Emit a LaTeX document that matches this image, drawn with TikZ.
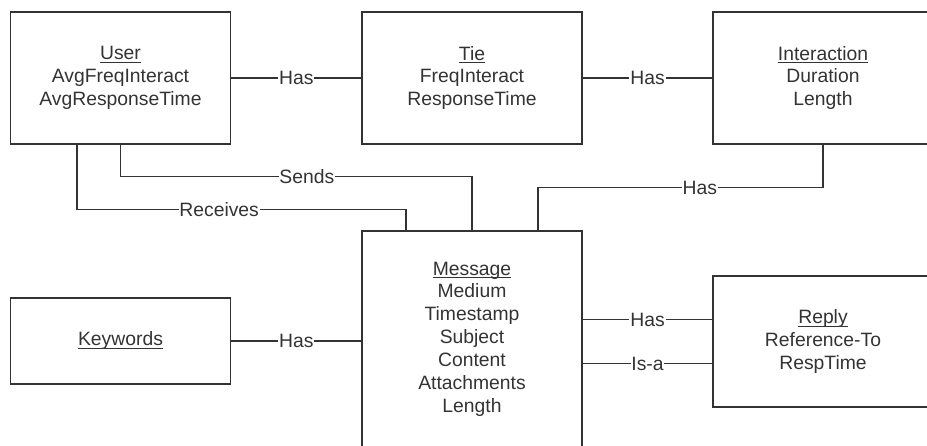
\documentclass[tikz,border=0pt]{standalone}
\usepackage{fontspec}
\setmainfont{Liberation Sans}
\newcommand\ename[1]{\setbox0\hbox{#1}\rlap{\rule[-1.6pt]{\wd0}{0.5pt}}\box0}
\begin{document}
\begin{tikzpicture}[
    x=0.02cm, y=-0.02cm,
    every node/.style={font=\fontsize{11}{13}\selectfont, text=black!80},
    entity/.style={draw=black!80, line width=0.8pt, align=center,
                   minimum width=4.4cm, inner sep=0pt},
    rel/.style={fill=white, inner sep=0.5pt},
    line width=0.8pt, draw=black!80]

\path[use as bounding box, clip] (0,0) rectangle (927,446);

\node[entity, minimum height=2.64cm] (User) at (120.5,78)
    {\ename{User}\\AvgFreqInteract\\AvgResponseTime};
\node[entity, minimum height=2.64cm] (Tie) at (472,78)
    {\ename{Tie}\\FreqInteract\\ResponseTime};
\node[entity, minimum height=2.64cm] (Interaction) at (823,78)
    {\ename{Interaction}\\Duration\\Length};
\node[entity, minimum height=4.32cm] (Message) at (472,339)
    {\ename{Message}\\Medium\\Timestamp\\Subject\\Content\\Attachments\\Length};
\node[entity, minimum height=1.72cm] (Keywords) at (120.5,341)
    {\ename{Keywords}};
\node[entity, minimum height=2.62cm] (Reply) at (823,341.5)
    {\ename{Reply}\\Reference-To\\RespTime};

\coordinate (hasR) at ([yshift=0.44cm]Reply.west);
\coordinate (isaR) at ([yshift=-0.44cm]Reply.west);

\draw (User) -- node[rel] {Has} (Tie);
\draw (Tie) -- node[rel] {Has} (Interaction);
\draw (User.south) -- ++(0,-0.64cm) -| node[rel, pos=0.265] {Sends} (Message.north);
\draw ([xshift=-0.87cm]User.south) -- ++(0,-1.3cm)
    -| node[rel, pos=0.216] {Receives} ([xshift=-1.32cm]Message.north);
\draw (Interaction.south) -- ++(0,-0.86cm)
    -| node[rel, pos=0.216] {Has} ([xshift=1.32cm]Message.north);
\draw (Keywords) -- node[rel] {Has} (Keywords -| Message.west);
\draw (hasR -| Message.east) -- node[rel] {Has} (hasR);
\draw (isaR -| Message.east) -- node[rel] {Is-a} (isaR);

\end{tikzpicture}
\end{document}
